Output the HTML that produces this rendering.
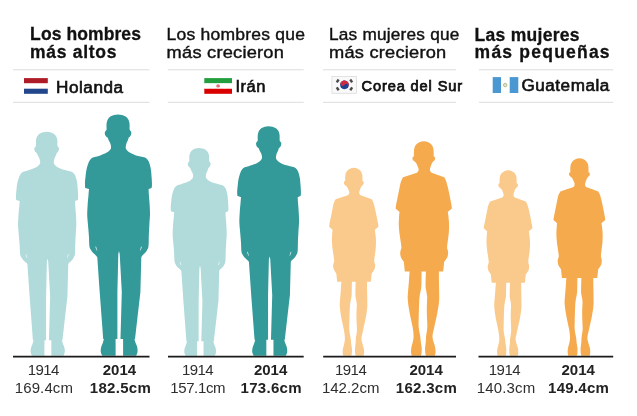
<!DOCTYPE html>
<html lang="es">
<head>
<meta charset="utf-8">
<title>Estatura 1914 - 2014</title>
<style>
  html, body { margin: 0; padding: 0; background: #ffffff; }
  body { width: 637px; height: 416px; overflow: hidden; position: relative;
         font-family: "Liberation Sans", sans-serif; }
  svg { position: absolute; left: 0; top: 0; display: block; will-change: transform; }
  text { font-family: "Liberation Sans", sans-serif; }
  .tb { font-weight: bold; font-size: 17.5px; fill: #111111; stroke: #111111; stroke-width: 0.3px; }
  .tr { font-weight: normal; font-size: 16.7px; fill: #111111; stroke: #111111; stroke-width: 0.4px; letter-spacing: 0.2px; }
  .cn { font-weight: normal; font-size: 15.8px; fill: #111111; stroke: #111111; stroke-width: 0.6px; letter-spacing: 0.5px; }
  .yr { font-size: 15px; fill: #2e2e2e; text-anchor: middle; }
  .yb { font-size: 15px; fill: #222222; text-anchor: middle; font-weight: bold; }
</style>
</head>
<body>
<svg width="637" height="416" viewBox="0 0 637 416">
  <defs>
    <!-- man silhouette: feet centre at (118.4,355.8), 182.5cm tall -->
    <g id="man"><path d="M118.0,114.4 C119.3,114.4 120.7,114.6 122.0,115.0 C123.3,115.4 124.7,115.9 125.7,116.6 C126.7,117.3 127.6,118.3 128.2,119.3 C128.8,120.3 129.2,121.7 129.4,122.8 C129.6,123.9 129.6,124.8 129.6,126.0 C129.6,127.2 129.5,128.9 129.7,129.8 C129.9,130.7 130.7,130.8 131.0,131.4 C131.3,132.0 131.4,132.7 131.3,133.4 C131.2,134.2 130.8,135.2 130.4,135.9 C130.0,136.6 129.3,137.0 128.7,137.5 C128.4,138.5 128.2,139.5 127.8,140.4 C127.4,141.3 126.8,142.2 126.5,143.2 C126.2,144.2 125.9,145.2 125.8,146.2 C125.7,147.2 125.6,148.1 126.0,149.0 C126.4,149.9 127.3,150.7 128.2,151.5 C129.1,152.3 130.3,153.0 131.5,153.6 C132.7,154.2 133.8,154.7 135.3,155.2 C136.8,155.7 138.9,156.0 140.5,156.4 C142.1,156.8 143.8,157.0 145.0,157.6 C146.2,158.2 147.0,158.9 147.8,160.0 C148.6,161.1 149.2,162.5 149.7,164.2 C150.2,165.9 150.7,168.0 151.0,170.0 C151.3,172.0 151.3,174.0 151.5,176.0 C151.7,178.0 151.8,180.3 151.9,182.0 C152.0,183.7 152.0,185.0 151.9,186.0 C151.8,187.0 151.7,187.3 151.6,187.9 C150.6,188.3 149.6,188.7 148.6,189.1 C148.7,191.1 148.7,192.5 148.9,195.0 C149.1,197.5 149.4,200.8 149.6,204.0 C149.8,207.2 150.0,210.7 150.0,214.0 C150.0,217.3 149.6,220.3 149.4,224.0 C149.2,227.7 149.0,232.3 148.8,236.0 C148.7,239.7 148.8,243.7 148.5,246.0 C148.2,248.3 147.9,248.5 147.3,249.6 C146.8,250.7 146.1,251.8 145.2,252.8 C144.3,253.9 143.0,254.9 141.9,255.9 C141.7,256.3 141.5,256.8 141.3,257.2 C141.0,268.8 140.7,280.4 140.4,292.0 C138.6,307.7 136.8,323.3 135.0,339.0 C134.8,339.0 134.6,339.0 134.4,339.0 C134.8,340.3 135.1,341.7 135.6,343.0 C136.1,344.3 136.9,345.7 137.2,347.0 C137.5,348.3 137.6,349.8 137.6,351.0 C137.6,352.2 137.2,353.2 136.9,354.0 C136.6,354.8 136.3,355.2 136.0,355.8 C131.7,355.8 127.4,355.8 123.1,355.8 C123.1,350.2 123.1,344.6 123.1,339.0 C122.2,339.0 121.4,339.0 120.5,339.0 C120.9,323.3 121.4,307.7 121.8,292.0 C121.1,279.3 120.4,266.7 119.7,254.0 C119.5,253.1 119.2,252.2 119.0,251.3 C118.8,252.2 118.5,253.1 118.3,254.0 C118.0,266.7 117.7,279.3 117.4,292.0 C117.4,307.7 117.4,323.3 117.4,339.0 C116.8,339.0 116.2,339.0 115.6,339.0 C115.6,344.6 115.6,350.2 115.6,355.8 C111.2,355.8 106.8,355.8 102.4,355.8 C102.1,355.2 101.7,354.8 101.4,354.0 C101.1,353.2 100.7,352.2 100.7,351.0 C100.7,349.8 100.9,348.3 101.2,347.0 C101.5,345.7 102.3,344.3 102.8,343.0 C103.2,341.7 103.5,340.3 103.9,339.0 C103.7,339.0 103.4,339.0 103.2,339.0 C102.0,323.3 100.9,307.7 99.7,292.0 C98.9,280.4 98.1,268.8 97.3,257.2 C97.0,256.8 96.7,256.3 96.4,255.9 C95.3,254.9 94.0,253.9 93.0,252.8 C92.0,251.8 91.3,250.7 90.7,249.6 C90.1,248.5 89.7,248.3 89.4,246.0 C89.1,243.7 89.2,239.7 88.9,236.0 C88.7,232.3 88.2,227.7 87.9,224.0 C87.6,220.3 87.2,217.3 87.2,214.0 C87.2,210.7 87.5,207.2 87.7,204.0 C87.9,200.8 88.3,197.5 88.5,195.0 C88.7,192.5 88.8,191.1 89.0,189.1 C87.8,188.7 86.5,188.3 85.3,187.9 C85.2,187.3 85.0,187.0 85.0,186.0 C85.0,185.0 84.9,183.7 85.0,182.0 C85.1,180.3 85.4,178.0 85.6,176.0 C85.8,174.0 86.0,172.0 86.4,170.0 C86.8,168.0 87.4,165.9 88.0,164.2 C88.6,162.5 89.2,161.1 90.0,160.0 C90.8,158.9 91.6,158.2 92.8,157.6 C94.0,157.0 95.7,156.8 97.0,156.4 C98.3,156.0 99.5,155.7 100.8,155.2 C102.1,154.7 103.7,154.2 105.0,153.6 C106.3,153.0 107.5,152.3 108.4,151.5 C109.4,150.7 110.3,149.9 110.7,149.0 C111.1,148.1 111.1,147.2 111.0,146.2 C110.9,145.2 110.6,144.2 110.2,143.2 C109.8,142.2 109.2,141.3 108.8,140.4 C108.4,139.5 108.0,138.5 107.6,137.5 C107.0,137.0 106.2,136.6 105.7,135.9 C105.2,135.2 104.9,134.2 104.8,133.4 C104.7,132.7 104.9,132.0 105.2,131.4 C105.5,130.8 106.3,130.7 106.5,129.8 C106.7,128.9 106.5,127.2 106.5,126.0 C106.5,124.8 106.5,123.9 106.7,122.8 C106.9,121.7 107.3,120.3 107.9,119.3 C108.5,118.3 109.3,117.3 110.3,116.6 C111.3,115.9 112.7,115.4 114.0,115.0 C115.3,114.6 116.7,114.4 118.0,114.4 Z"/>
      <path d="M95.2,246.5 L96.2,246.7 L97.3,250.7 L96.5,250.3 Z" fill="#ffffff" fill-opacity="0.8"/>
      <path d="M142.0,246.5 L141.0,246.7 L139.9,250.7 L140.7,250.3 Z" fill="#ffffff" fill-opacity="0.8"/></g>
    <!-- woman silhouette: feet centre at (424,355.8), 162.3cm tall -->
    <path id="woman" d="M423.8,141.3 C425.3,141.3 426.9,141.6 428.2,142.2 C429.5,142.8 430.6,143.6 431.4,144.6 C432.2,145.6 432.8,146.7 433.2,148.0 C433.6,149.3 433.6,151.2 433.7,152.5 C433.8,153.8 433.5,155.2 433.7,156.0 C433.9,156.8 434.7,156.7 434.9,157.2 C435.1,157.7 435.2,158.2 435.1,158.8 C435.0,159.4 434.8,160.1 434.4,160.6 C434.0,161.1 433.5,161.3 433.0,161.6 C432.7,162.1 432.4,162.5 432.0,163.2 C431.6,163.9 431.2,165.0 430.9,166.0 C430.6,167.0 430.1,168.1 430.0,169.0 C429.9,169.9 430.0,170.6 430.3,171.2 C430.6,171.8 431.2,172.2 431.6,172.7 C435.8,174.2 440.0,175.7 444.2,177.2 C444.8,178.3 445.4,179.2 445.9,180.4 C446.4,181.6 446.6,182.6 447.1,184.4 C447.6,186.2 448.2,188.6 448.7,191.0 C449.2,193.4 449.9,196.7 450.3,198.9 C450.7,201.1 451.0,202.4 451.3,204.0 C451.6,205.6 451.7,206.9 451.9,208.4 C450.5,209.5 449.2,210.7 447.8,211.8 C448.1,213.9 448.4,215.8 448.6,218.0 C448.8,220.2 449.1,222.5 449.1,225.0 C449.1,227.5 449.0,230.3 448.8,233.0 C448.6,235.7 448.1,238.6 447.8,241.0 C447.5,243.4 447.1,245.8 447.1,247.4 C447.1,249.0 447.6,249.4 447.8,250.4 C448.0,251.4 448.2,252.0 448.1,253.2 C448.0,254.4 447.9,256.0 447.2,257.4 C446.5,258.8 445.2,260.3 444.2,261.8 C443.9,265.0 443.5,268.2 443.2,271.4 C441.8,271.4 440.3,271.4 438.9,271.4 C438.9,275.3 438.9,279.1 439.0,283.0 C439.1,286.9 439.2,292.0 439.2,295.0 C439.2,298.0 439.3,298.8 439.1,301.0 C438.9,303.2 438.6,305.6 438.2,308.0 C437.8,310.4 437.5,312.1 436.9,315.3 C436.2,318.5 435.0,323.6 434.3,327.0 C433.6,330.4 432.6,333.5 432.5,336.0 C432.4,338.5 433.1,340.0 433.6,342.0 C434.1,344.0 435.0,346.2 435.3,348.0 C435.6,349.8 435.6,351.7 435.5,353.0 C435.4,354.3 435.0,354.9 434.8,355.8 C431.9,355.8 428.9,355.8 426.0,355.8 C425.8,354.9 425.4,354.3 425.3,353.0 C425.2,351.7 425.0,349.8 425.1,348.0 C425.2,346.2 425.6,344.0 425.8,342.0 C426.0,340.0 425.9,338.5 426.1,336.0 C426.4,333.5 427.2,330.0 427.3,327.0 C427.4,324.0 427.1,320.8 427.0,318.0 C426.9,315.2 426.8,313.0 426.8,310.3 C426.8,307.6 426.9,304.4 427.0,302.0 C427.1,299.6 427.3,298.2 427.1,296.0 C426.9,293.8 426.1,290.8 425.9,289.0 C425.6,287.2 425.6,287.9 425.6,285.0 C425.6,282.1 425.8,275.9 425.9,271.4 C424.5,271.4 423.0,271.4 421.6,271.4 C421.5,275.9 421.5,282.1 421.4,285.0 C421.3,287.9 421.3,287.2 421.0,289.0 C420.7,290.8 420.0,293.8 419.7,296.0 C419.4,298.2 419.3,299.6 419.2,302.0 C419.1,304.4 419.0,307.6 418.9,310.3 C418.8,313.0 418.7,315.2 418.7,318.0 C418.7,320.8 418.4,324.0 418.7,327.0 C418.9,330.0 419.8,333.5 420.2,336.0 C420.6,338.5 420.6,340.0 420.8,342.0 C421.1,344.0 421.6,346.2 421.7,348.0 C421.8,349.8 421.7,351.7 421.6,353.0 C421.5,354.3 421.1,354.9 420.9,355.8 C417.9,355.8 414.8,355.8 411.8,355.8 C411.6,354.9 411.2,354.3 411.1,353.0 C411.0,351.7 411.0,349.8 411.3,348.0 C411.6,346.2 412.4,344.0 412.8,342.0 C413.2,340.0 413.6,338.5 413.6,336.0 C413.6,333.5 413.2,330.4 412.6,327.0 C412.0,323.6 410.7,318.5 410.1,315.3 C409.5,312.1 409.2,310.4 408.8,308.0 C408.4,305.6 408.1,303.2 407.9,301.0 C407.7,298.8 407.6,298.0 407.8,295.0 C408.0,292.0 408.5,286.9 408.8,283.0 C409.1,279.1 409.3,275.3 409.6,271.4 C408.0,271.4 406.4,271.4 404.8,271.4 C404.5,268.2 404.1,265.0 403.8,261.8 C402.9,260.3 401.6,258.8 401.0,257.4 C400.4,256.0 400.3,254.4 400.2,253.2 C400.1,252.0 400.4,251.4 400.6,250.4 C400.8,249.4 401.4,249.0 401.4,247.4 C401.4,245.8 400.9,243.4 400.6,241.0 C400.3,238.6 399.7,235.7 399.4,233.0 C399.1,230.3 398.9,227.5 398.8,225.0 C398.7,222.5 398.9,220.2 399.0,218.0 C399.1,215.8 399.3,213.9 399.5,211.8 C398.2,210.7 396.9,209.5 395.6,208.4 C395.8,206.9 395.9,205.6 396.2,204.0 C396.5,202.4 396.9,201.1 397.3,198.9 C397.8,196.7 398.4,193.4 398.9,191.0 C399.4,188.6 399.8,186.2 400.2,184.4 C400.6,182.6 400.9,181.6 401.4,180.4 C401.9,179.2 402.5,178.3 403.1,177.2 C407.7,175.7 412.3,174.2 416.9,172.7 C417.3,172.2 417.9,171.8 418.2,171.2 C418.5,170.6 418.7,169.9 418.6,169.0 C418.5,168.1 417.9,167.0 417.5,166.0 C417.1,165.0 416.7,163.9 416.2,163.2 C415.7,162.5 415.2,162.1 414.7,161.6 C414.2,161.3 413.7,161.1 413.3,160.6 C412.9,160.1 412.6,159.4 412.5,158.8 C412.4,158.2 412.5,157.7 412.7,157.2 C412.9,156.7 413.7,156.8 413.9,156.0 C414.1,155.2 413.8,153.8 413.9,152.5 C414.0,151.2 414.0,149.3 414.4,148.0 C414.8,146.7 415.4,145.6 416.2,144.6 C417.0,143.6 418.1,142.8 419.4,142.2 C420.7,141.6 422.3,141.3 423.8,141.3 Z"/>
  </defs>

  <!-- dividers -->
  <g stroke="#dcdcdc" stroke-width="1">
    <line x1="13" y1="69.8" x2="149.5" y2="69.8"/><line x1="13" y1="102.3" x2="149.5" y2="102.3"/>
    <line x1="167.8" y1="69.8" x2="303.7" y2="69.8"/><line x1="167.8" y1="102.3" x2="303.7" y2="102.3"/>
    <line x1="323" y1="69.8" x2="456" y2="69.8"/><line x1="323" y1="102.3" x2="456" y2="102.3"/>
    <line x1="479" y1="69.8" x2="613.2" y2="69.8"/><line x1="479" y1="102.3" x2="613.2" y2="102.3"/>
  </g>

  <!-- figures -->
  <g fill="#b1dada">
    <use href="#man" transform="translate(47 355.8) scale(0.9282) translate(-118.4 -355.8)"/>
    <use href="#man" transform="translate(199.5 355.8) scale(0.8608) translate(-118.4 -355.8)"/>
  </g>
  <g fill="#339999">
    <use href="#man"/>
    <use href="#man" transform="translate(269 355.8) scale(0.9512) translate(-118.4 -355.8)"/>
  </g>
  <g fill="#faca8c">
    <use href="#woman" transform="translate(354 355.8) scale(0.8762) translate(-424 -355.8)"/>
    <use href="#woman" transform="translate(508.3 355.8) scale(0.8645) translate(-424 -355.8)"/>
  </g>
  <g fill="#f5aa4e">
    <use href="#woman"/>
    <use href="#woman" transform="translate(579.6 355.8) scale(0.9205) translate(-424 -355.8)"/>
  </g>

  <!-- baselines -->
  <g stroke="#1a1a1a" stroke-width="1.7">
    <line x1="13" y1="356.6" x2="149.5" y2="356.6"/>
    <line x1="168" y1="356.6" x2="303.7" y2="356.6"/>
    <line x1="323.2" y1="356.6" x2="456" y2="356.6"/>
    <line x1="478.5" y1="356.6" x2="613.2" y2="356.6"/>
  </g>

  <!-- flags -->
  <g>
    <!-- Netherlands -->
    <rect x="24" y="78.1" width="23.8" height="5.1" fill="#ae1c28"/>
    <rect x="24" y="88.7" width="23.8" height="5.1" fill="#21468b"/>
    <!-- Iran -->
    <rect x="204.3" y="78.1" width="27.7" height="4.9" fill="#239f40"/>
    <rect x="204.3" y="83" width="27.7" height="5.9" fill="#ffffff"/>
    <rect x="204.3" y="88.9" width="27.7" height="4.9" fill="#da0000"/>
    <line x1="204.3" y1="83.2" x2="232" y2="83.2" stroke="#239f40" stroke-width="0.5" stroke-dasharray="0.7 0.5" opacity="0.7"/>
    <line x1="204.3" y1="88.7" x2="232" y2="88.7" stroke="#da0000" stroke-width="0.5" stroke-dasharray="0.7 0.5" opacity="0.7"/>
    <ellipse cx="218.1" cy="85.9" rx="1.9" ry="1.7" fill="#e3545e" opacity="0.85"/>
    <!-- South Korea -->
    <rect x="331.9" y="76.4" width="24.6" height="16.9" fill="#f9f9f9" stroke="#dcdcdc" stroke-width="0.8"/>
    <g transform="translate(344.5 84.8) rotate(33.7)">
      <circle r="4.4" fill="#1f4192"/>
      <path d="M-4.4,0 A4.4,4.4 0 0 1 4.4,0 A2.2,2.2 0 0 0 0,0 A2.2,2.2 0 0 1 -4.4,0 Z" fill="#d22b40"/>
    </g>
    <g fill="#4a4a4a">
      <rect x="-1.7" y="-1.2" width="3.4" height="2.4" transform="translate(337.7 80.9) rotate(-56)"/>
      <rect x="-1.7" y="-1.2" width="3.4" height="2.4" transform="translate(351.2 80.9) rotate(56)"/>
      <rect x="-1.7" y="-1.2" width="3.4" height="2.4" transform="translate(337.7 88.8) rotate(56)"/>
      <rect x="-1.7" y="-1.2" width="3.4" height="2.4" transform="translate(351.2 88.8) rotate(-56)"/>
    </g>
    <!-- Guatemala -->
    <rect x="492.7" y="77.1" width="8.4" height="15.9" fill="#4a97d2"/>
    <rect x="501.1" y="77.1" width="8.6" height="15.9" fill="#ffffff"/>
    <rect x="509.7" y="77.1" width="8.6" height="15.9" fill="#4a97d2"/>
    <circle cx="505.2" cy="85.1" r="1.7" fill="#e6e8cc" stroke="#b4b98c" stroke-width="1"/>
  </g>

  <!-- titles -->
  <text class="tb" x="30.1" y="39.8" textLength="110.8">Los hombres</text>
  <text class="tb" x="30.1" y="58.2" textLength="86.4">más altos</text>
  <text class="tr" x="166.6" y="39.8" textLength="138.5" lengthAdjust="spacingAndGlyphs">Los hombres que</text>
  <text class="tr" x="166.6" y="58" textLength="117.5" lengthAdjust="spacingAndGlyphs">más crecieron</text>
  <text class="tr" x="329" y="39.8" textLength="130.5" lengthAdjust="spacingAndGlyphs">Las mujeres que</text>
  <text class="tr" x="329" y="58" textLength="117.5" lengthAdjust="spacingAndGlyphs">más crecieron</text>
  <text class="tb" x="474.6" y="40.7" textLength="105">Las mujeres</text>
  <text class="tb" x="474.6" y="57.9" textLength="135">más pequeñas</text>

  <!-- countries -->
  <text class="cn" x="56.0" y="92.7" textLength="67.6" lengthAdjust="spacingAndGlyphs">Holanda</text>
  <text class="cn" x="235.4" y="92" textLength="30.5" lengthAdjust="spacingAndGlyphs">Irán</text>
  <text class="cn" x="361.5" y="90.8" textLength="100.6" lengthAdjust="spacing" style="font-size:14.6px;stroke-width:0.75px;letter-spacing:0px">Corea del Sur</text>
  <text class="cn" x="521.4" y="91.2" textLength="88.5" lengthAdjust="spacingAndGlyphs">Guatemala</text>

  <!-- years / heights -->
  <g class="yr">
    <text x="43.3" y="375.3" style="letter-spacing:-0.55px">1914</text><text x="43.9" y="393.3" style="letter-spacing:0.1px">169.4cm</text>
    <text x="197.5" y="375.3" style="letter-spacing:-0.55px">1914</text><text x="197.7" y="393.3" style="letter-spacing:-0.35px">157.1cm</text>
    <text x="350.6" y="375.3" style="letter-spacing:-0.55px">1914</text><text x="350.7" y="393.3">142.2cm</text>
    <text x="504.4" y="375.3" style="letter-spacing:-0.55px">1914</text><text x="506.1" y="393.3" style="letter-spacing:0.15px">140.3cm</text>
  </g>
  <g class="yb">
    <text x="119.4" y="375.3">2014</text><text x="120.5" y="393.3" style="letter-spacing:0.3px">182.5cm</text>
    <text x="270.6" y="375.3">2014</text><text x="271.2" y="393.3" style="letter-spacing:0.3px">173.6cm</text>
    <text x="426.1" y="375.3">2014</text><text x="426.4" y="393.3" style="letter-spacing:0.3px">162.3cm</text>
    <text x="578.2" y="375.3">2014</text><text x="578.6" y="393.3" style="letter-spacing:0.25px">149.4cm</text>
  </g>
</svg>
</body>
</html>
